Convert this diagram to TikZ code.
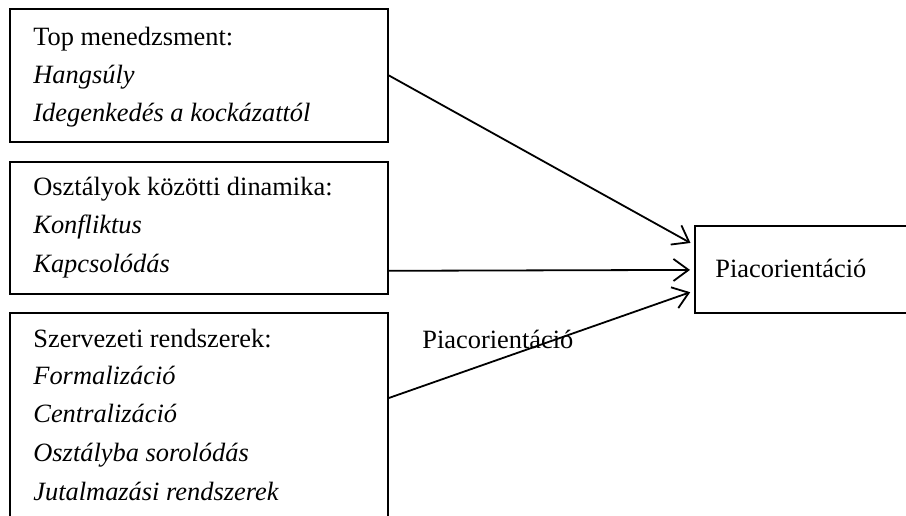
\documentclass[tikz,border=0pt]{standalone}
\usepackage{fontspec}
\setmainfont{Liberation Serif}
\usetikzlibrary{arrows.meta,calc}
\begin{document}
\begin{tikzpicture}[x=0.5pt,y=-0.5pt,
  box/.style={draw,line width=0.9pt,rectangle,inner sep=0pt,anchor=north west},
  txt/.style={anchor=base west,inner sep=0pt,font=\fontsize{13.2}{15}\selectfont},
  conn/.style={line width=0.9pt,-{Straight Barb[length=7.5pt,width=11pt,line width=0.9pt]},shorten >=2pt}]
\path[use as bounding box] (0,0) rectangle (906,515);
\begin{scope}
\clip (0,0) rectangle (906,515);
\node[box,minimum width=189pt,minimum height=66.5pt] (b1) at (9,8) {};
\node[box,minimum width=189pt,minimum height=66pt] (b2) at (9,161) {};
\node[box,minimum width=189pt,minimum height=120pt] (b3) at (9,312) {};
\node[box,minimum width=120pt,minimum height=43.5pt] (pr) at (694,225) {};

\node[txt] (t11) at (33,45) {Top menedzsment:};
\node[txt] (t12) at (33,83) {\itshape Hangsúly};
\node[txt] (t13) at (33,121) {\itshape Idegenkedés a kockázattól};

\node[txt] (t21) at (33,195) {Osztályok közötti dinamika:};
\node[txt] (t22) at (33,233) {\itshape Konfliktus};
\node[txt] (t23) at (33,272) {\itshape Kapcsolódás};

\node[txt] (t31) at (33,347) {Szervezeti rendszerek:};
\node[txt] (t32) at (33,384) {\itshape Formalizáció};
\node[txt] (t33) at (33,422) {\itshape Centralizáció};
\node[txt] (t34) at (33,461) {\itshape Osztályba sorolódás};
\node[txt] (t35) at (33,500) {\itshape Jutalmazási rendszerek};

\node[txt] (pt) at (715,277) {Piacorientáció};
\node[txt] (lab) at (422,348) {Piacorientáció};

\coordinate (s1) at (b1.east);
\coordinate (s2) at ($(b2.south east)+(0,-24)$);
\coordinate (s3) at ($(b3.north east)+(0,86)$);
\coordinate (e1) at ($(pr.west)+(0,-24.5)$);
\coordinate (e2) at ($(pr.west)+(0,0.5)$);
\coordinate (e3) at ($(pr.west)+(0,21.5)$);
\draw[conn] (s1) -- (e1);
\draw[conn] (s2) -- (e2);
\draw[conn] (s3) -- (e3);
\end{scope}
\end{tikzpicture}
\end{document}
